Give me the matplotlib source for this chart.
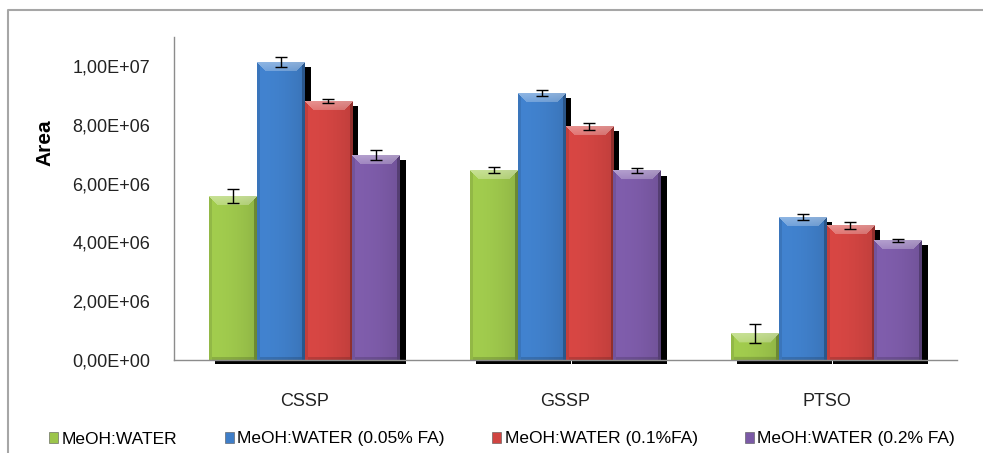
import numpy as np
import matplotlib
matplotlib.use('Agg')
from matplotlib import pyplot as plt
from matplotlib.patches import Patch
from matplotlib.lines import Line2D
from matplotlib.ticker import FuncFormatter
from matplotlib.colors import to_rgb

plt.rcParams['font.family'] = ['Liberation Sans', 'DejaVu Sans']

categories = ['CSSP', 'GSSP', 'PTSO']
series = ['MeOH:WATER', 'MeOH:WATER (0.05% FA)', 'MeOH:WATER (0.1%FA)', 'MeOH:WATER (0.2% FA)']

meoh_water = [5.57e6, 6.46e6, 0.90e6]
fa_005 = [10.13e6, 9.07e6, 4.85e6]
fa_01 = [8.80e6, 7.95e6, 4.58e6]
fa_02 = [6.96e6, 6.44e6, 4.07e6]

err_meoh_water = [0.23e6, 0.10e6, 0.33e6]
err_fa_005 = [0.18e6, 0.10e6, 0.10e6]
err_fa_01 = [0.07e6, 0.11e6, 0.11e6]
err_fa_02 = [0.17e6, 0.085e6, 0.05e6]

values = [meoh_water, fa_005, fa_01, fa_02]
errors = [err_meoh_water, err_fa_005, err_fa_01, err_fa_02]
colors = ['#9cc54b', '#3f7ec8', '#d04441', '#7b5aa6']


def bevel_img(rgb, w, h):
    # fake the excel bevel: light top trapezoid, darker edges
    w = max(int(round(w)), 4)
    h = max(int(round(h)), 4)
    yy, xx = np.mgrid[0:h, 0:w]
    dt, db = yy, h - 1 - yy
    dl, dr = xx, w - 1 - xx
    base = np.array(rgb)
    img = np.tile(base, (h, w, 1))
    t = xx / (w - 1)
    fac = 1.04 - 0.12 * t ** 2
    img = img * fac[..., None]
    b = min(9, h // 2)
    top = (dt < b) & (dt <= dl) & (dt <= dr)
    # gradient inside the top bevel, lighter near the edge
    g = 1 - dt / b
    img[top] = img[top] * (0.75 - 0.15 * g[top])[:, None] + (0.25 + 0.15 * g[top])[:, None]
    left = (dl < 3) & ~top
    img[left] = img[left] * 0.9
    right = (dr < 3) & ~top
    img[right] = img[right] * 0.75
    bot = (db < 3) & ~left & ~right
    img[bot] = img[bot] * 0.85
    return np.clip(img, 0, 1)


fig = plt.figure(figsize=(9.83, 4.53), dpi=100)
ax = fig.add_axes([174 / 983, 1 - 360 / 453, (957 - 174) / 983, (360 - 36.6) / 453])

x = np.arange(len(categories))
width = 0.1825
ax.set_xlim(-0.5, len(categories) - 0.5)
ax.set_ylim(0, 1.1e7)

# size of one pixel in data units
px_x = 1.0 / 261
px_y = 1.1e7 / (360 - 36.6)

for i, (vals, errs, c) in enumerate(zip(values, errors, colors)):
    pos = x + (i - 1.5) * width
    # drop shadow
    ax.bar(pos + 6 * px_x, np.array(vals) - 1.5 * px_y, width, bottom=-3.5 * px_y,
           align='center', color='black', zorder=1, clip_on=False)

for i, (vals, errs, c) in enumerate(zip(values, errors, colors)):
    pos = x + (i - 1.5) * width
    bars = ax.bar(pos, vals, width, color=c, zorder=2, label=series[i])
    for bar in bars:
        x0, w_, h_ = bar.get_x(), bar.get_width(), bar.get_height()
        img = bevel_img(to_rgb(c), w_ / px_x, h_ / px_y)
        ax.imshow(img, extent=(x0, x0 + w_, 0, h_), origin='upper', aspect='auto',
                  interpolation='bilinear', zorder=3)
    ax.errorbar(pos, vals, yerr=errs, fmt='none', ecolor='black', elinewidth=1,
                capsize=4.5, capthick=1, zorder=4)

ax.set_xlim(-0.5, len(categories) - 0.5)
ax.set_ylim(0, 1.1e7)
ax.set_yticks([0, 2e6, 4e6, 6e6, 8e6, 1e7])
ax.yaxis.set_major_formatter(FuncFormatter(lambda v, p: f'{v:.2E}'.replace('.', ',')))
ax.set_xticks(x)
ax.set_xticklabels(categories)
ax.tick_params(axis='both', length=0, labelsize=13, colors='#222222')
ax.tick_params(axis='y', pad=17)
ax.tick_params(axis='x', pad=24)
ax.set_ylabel('Area', fontsize=15, fontweight='bold')
ax.yaxis.set_label_coords(-0.152, 0.671)

for s in ['top', 'right']:
    ax.spines[s].set_visible(False)
for s in ['left', 'bottom']:
    ax.spines[s].set_color('#8c8c8c')
    ax.spines[s].set_linewidth(1)
    ax.spines[s].set_zorder(5)

# chart frame (cut off on the right and bottom)
fig.add_artist(Line2D([8 / 983, 8 / 983, 1], [0, 1 - 10 / 453, 1 - 10 / 453],
                      transform=fig.transFigure, color='#a6a6a6', lw=1.5))

handles = [Patch(facecolor=c, edgecolor='#555555', linewidth=0.4) for c in colors]
fig.legend(handles, series, loc='center', bbox_to_anchor=(0.511, 1 - 439 / 453), ncol=4,
           frameon=False, handlelength=0.5, handleheight=0.55, handletextpad=0.2,
           columnspacing=2.75, prop={'size': 12.5})

fig.savefig('out.png', dpi=100)
